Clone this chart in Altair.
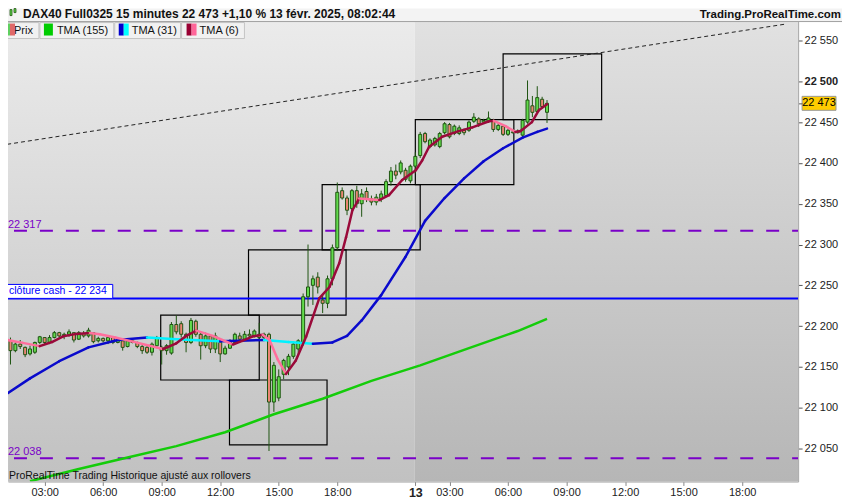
import pandas as pd
import altair as alt

# 15-minute bars: index 0 = 12 févr. 01:15, 83 = 13 févr. 01:15, 110 = 13 févr. 08:00
bar_i = list(range(-1, 111))
opens = [22178,
         22182, 22170, 22178, 22174, 22166, 22168, 22180, 22186, 22180, 22186,
         22192, 22188, 22190, 22192, 22184, 22191, 22188, 22192, 22182, 22185,
         22182, 22186, 22180, 22182, 22175, 22182, 22180, 22175, 22174, 22168,
         22176, 22174, 22170, 22167, 22202, 22203, 22190, 22180, 22206, 22190,
         22176, 22188, 22172, 22180, 22166, 22173, 22180, 22188, 22184, 22190,
         22188, 22190, 22186, 22190, 22107, 22112, 22141, 22150, 22163, 22172,
         22180, 22236, 22250, 22260, 22232, 22228, 22258, 22296, 22366, 22357,
         22344, 22366, 22350, 22365, 22356, 22352, 22356, 22360, 22377, 22390,
         22389, 22391, 22378, 22396, 22409, 22436, 22420, 22422, 22420, 22437,
         22447, 22436, 22436, 22440, 22440, 22451, 22454, 22450, 22451, 22452,
         22441, 22445, 22435, 22438, 22437, 22434, 22450, 22470, 22463, 22478,
         22462]
highs = [22188,
         22186, 22180, 22183, 22175, 22176, 22181, 22188, 22186, 22189, 22194,
         22193, 22192, 22196, 22192, 22194, 22194, 22198, 22192, 22187, 22186,
         22188, 22186, 22186, 22183, 22184, 22184, 22181, 22177, 22176, 22180,
         22188, 22176, 22178, 22205, 22213, 22206, 22192, 22210, 22208, 22194,
         22192, 22190, 22192, 22181, 22176, 22184, 22192, 22192, 22194, 22196,
         22196, 22204, 22192, 22192, 22156, 22147, 22160, 22166, 22181, 22184,
         22240, 22300, 22262, 22266, 22238, 22262, 22300, 22376, 22370, 22360,
         22368, 22372, 22368, 22370, 22360, 22362, 22366, 22380, 22395, 22398,
         22403, 22394, 22398, 22413, 22438, 22438, 22430, 22432, 22438, 22450,
         22449, 22447, 22446, 22442, 22452, 22461, 22456, 22454, 22463, 22454,
         22449, 22447, 22442, 22440, 22441, 22454, 22501, 22482, 22494, 22481,
         22477]
lows = [22176,
        22153, 22168, 22172, 22162, 22164, 22166, 22178, 22178, 22178, 22185,
        22186, 22184, 22187, 22180, 22183, 22186, 22186, 22179, 22180, 22180,
        22178, 22178, 22179, 22170, 22174, 22179, 22173, 22166, 22166, 22164,
        22173, 22153, 22165, 22165, 22190, 22186, 22168, 22178, 22187, 22159,
        22173, 22167, 22167, 22156, 22165, 22172, 22178, 22180, 22182, 22186,
        22186, 22183, 22183, 22047, 22095, 22108, 22135, 22140, 22160, 22165,
        22176, 22224, 22226, 22240, 22216, 22222, 22250, 22292, 22355, 22336,
        22340, 22345, 22334, 22352, 22348, 22348, 22352, 22358, 22372, 22380,
        22386, 22377, 22375, 22387, 22406, 22424, 22418, 22420, 22418, 22435,
        22430, 22434, 22434, 22434, 22438, 22449, 22444, 22448, 22449, 22438,
        22439, 22433, 22433, 22436, 22436, 22430, 22448, 22456, 22460, 22467,
        22449]
closes = [22186,
          22170, 22178, 22175, 22165, 22172, 22180, 22187, 22180, 22186, 22192,
          22188, 22190, 22193, 22183, 22192, 22188, 22195, 22181, 22185, 22182,
          22186, 22180, 22184, 22174, 22182, 22180, 22175, 22170, 22168, 22178,
          22186, 22170, 22176, 22202, 22193, 22190, 22180, 22207, 22190, 22176,
          22188, 22172, 22188, 22166, 22173, 22182, 22190, 22184, 22190, 22188,
          22194, 22186, 22190, 22107, 22152, 22138, 22158, 22163, 22178, 22182,
          22236, 22248, 22258, 22248, 22228, 22258, 22296, 22364, 22357, 22342,
          22366, 22350, 22362, 22356, 22352, 22358, 22362, 22377, 22390, 22385,
          22400, 22380, 22396, 22408, 22435, 22426, 22428, 22430, 22436, 22448,
          22432, 22445, 22443, 22437, 22450, 22456, 22448, 22452, 22455, 22441,
          22446, 22435, 22440, 22437, 22439, 22452, 22477, 22462, 22480, 22469,
          22473]

# moving averages
tma155_i = [4, 14, 24, 34, 44, 54, 64, 74, 84, 94, 104, 110]
tma155_v = [22010, 22025, 22039, 22053, 22070, 22092, 22111, 22133, 22152, 22173, 22194, 22209]
tma31_i = [-2, 4, 10, 16, 22, 28, 35, 43, 52, 57, 62, 66, 69, 72, 76, 81, 85, 89, 93, 97, 101, 105, 108, 110]
tma31_v = [22112, 22136, 22157, 22174, 22183, 22186, 22183.5, 22181.5, 22183, 22180.5, 22178.5, 22180,
           22188, 22207, 22238, 22285, 22329, 22357, 22381, 22402, 22418, 22431, 22438, 22442]
tma6_i = [-2.1, -1.1, 2.5, 6.0, 8.5, 10.8, 13.5, 16.3, 18.3, 21.5, 25.1, 28.5, 31.3, 34.0, 36.0, 38.1,
          41.5, 45.6, 47.5, 49.7, 51.7, 53.1, 54.8, 56.5, 58.5, 60.6, 63.3, 65.4, 67.4, 68.8, 70.1,
          71.5, 73.5, 75.6, 77.6, 80.3, 83.1, 84.4, 85.8, 88.5, 91.9, 94.7, 98.1, 99.1, 101.5, 103.5,
          104.6, 106.9, 108.3, 110]
tma6_v = [22181, 22183.5, 22179.5, 22175.5, 22180.5, 22187.5, 22190.5, 22191.5, 22190, 22186, 22181,
          22176, 22172, 22179, 22188, 22194.5, 22188, 22177.5, 22182, 22187.5, 22189.5, 22183, 22159,
          22141.5, 22158, 22187, 22234, 22248, 22277, 22309, 22342, 22356.5, 22355.5, 22354.5, 22360.5,
          22379, 22391, 22403, 22419.5, 22432, 22439, 22443.5, 22451, 22451.5, 22445, 22438, 22439,
          22450, 22464.5, 22472]

# boxes
box_i0 = [30.8, 44.9, 48.8, 63.9, 83.0, 101.0]
box_i1 = [51.0, 64.9, 68.8, 84.0, 103.2, 121.2]
box_lo = [22134, 22054.5, 22213.5, 22293.5, 22373.5, 22453]
box_hi = [22213.5, 22134, 22293.5, 22373.5, 22453, 22533.5]

trend_i = [-2.1, 158.8]
trend_v = [22421.5, 22570]

purple_levels = [22317, 22038]
cash_level = 22234
last_price = 22473

day_i0 = [-0.5, 82.9]
day_i1 = [82.9, 161.5]

tick_i = [7, 19, 31, 43, 55, 67, 83, 90, 102, 114, 126, 138, 150]
tick_lbl = ["03:00", "06:00", "09:00", "12:00", "15:00", "18:00", "13",
            "03:00", "06:00", "09:00", "12:00", "15:00", "18:00"]
price_ticks = [22050, 22100, 22150, 22200, 22250, 22300, 22350, 22400, 22450, 22500, 22550]

W, H = 792, 461
FONT = "Liberation Sans"


def fmt(v):
    return f"{v:,.0f}".replace(",", " ")


x_expr = "".join(f"datum.value == {t} ? '{s}' : " for t, s in zip(tick_i, tick_lbl)) + "''"
xs = alt.Scale(domain=[-0.511, 161.48], nice=False, zero=False, padding=0)
ys = alt.Scale(domain=[22009.7, 22573.2], nice=False, zero=False, padding=0)
x_axis = alt.Axis(values=tick_i, labelExpr=x_expr, grid=False, zindex=1,
                  tickSize=4, tickColor="#888", domainColor="#aaa",
                  labelColor="#222", labelFont=FONT, labelPadding=1,
                  labelFontSize={"condition": {"test": "datum.value == 83", "value": 12.5}, "value": 11},
                  labelFontWeight={"condition": {"test": "datum.value == 83", "value": "bold"}, "value": "normal"},
                  labelOverlap=False, labelFlush=False)
y_axis = alt.Axis(orient="right", values=price_ticks + [last_price], grid=False, zindex=1,
                  labelExpr="datum.value == 22473 ? '' : replace(format(datum.value, ','), ',', ' ')",
                  tickSize=4, tickColor="#555", domainColor="#aaa", labelColor="#222",
                  labelFont=FONT, labelFontSize=11, labelPadding=2,
                  labelFontWeight={"condition": {"test": "datum.value == 22500", "value": "bold"}, "value": "normal"},
                  labelOverlap=False, labelFlush=False)


def X(f):
    return alt.X(f, type="quantitative", scale=xs, axis=x_axis, title=None)


def Y(f):
    return alt.Y(f, type="quantitative", scale=ys, axis=y_axis, title=None)


one = pd.DataFrame({"k": [0]})


def box(x1, x2, y1, y2, **kw):
    return alt.Chart(one).mark_rect(**kw).encode(
        x=alt.value(x1), x2=alt.value(x2), y=alt.value(y1), y2=alt.value(y2))


def txt(s, x, y, **kw):
    return alt.Chart(one).mark_text(text=s, font=FONT, **kw).encode(x=alt.value(x), y=alt.value(y))


def segments(ii, vv):
    return pd.DataFrame({"i0": ii[:-1], "i1": ii[1:], "v0": vv[:-1], "v1": vv[1:]})


# background per day
days = pd.DataFrame({"i0": day_i0, "i1": day_i1, "d": [12, 13]})
grad12 = alt.Gradient(gradient="linear", x1=0, x2=0, y1=0, y2=1,
                      stops=[alt.GradientStop(color="#ebebeb", offset=0),
                             alt.GradientStop(color="#c1c1c1", offset=1)])
grad13 = alt.Gradient(gradient="linear", x1=0, x2=0, y1=0, y2=1,
                      stops=[alt.GradientStop(color="#e1e1e1", offset=0),
                             alt.GradientStop(color="#b6b6b6", offset=1)])
bg12 = alt.Chart(days).transform_filter("datum.d == 12").mark_rect(color=grad12, clip=True).encode(x=X("i0"), x2="i1")
bg13 = alt.Chart(days).transform_filter("datum.d == 13").mark_rect(color=grad13, clip=True).encode(x=X("i0"), x2="i1")

boxes = alt.Chart(pd.DataFrame({"i0": box_i0, "i1": box_i1, "lo": box_lo, "hi": box_hi})).mark_rect(
    fillOpacity=0, stroke="#000", strokeWidth=1.2, clip=True).encode(x=X("i0"), x2="i1", y=Y("lo"), y2="hi")

trend = alt.Chart(pd.DataFrame({"i": trend_i, "v": trend_v})).mark_line(
    color="#222", strokeDash=[4, 3], strokeWidth=1, clip=True).encode(x=X("i"), y=Y("v"))

purple = pd.DataFrame({"v": purple_levels, "lbl": [fmt(v) for v in purple_levels]})
plines = alt.Chart(purple).mark_rule(color="#7a00c8", strokeWidth=2, strokeDash=[13, 13],
                                      strokeDashOffset=7, clip=True).encode(y=Y("v"))
plabels = alt.Chart(purple).mark_text(align="left", baseline="alphabetic", dy=-3, color="#7a00c8",
                                      font=FONT, fontSize=11).encode(x=alt.value(0), y=Y("v"), text="lbl")

cash = pd.DataFrame({"v": [cash_level], "lbl": ["clôture cash -  " + fmt(cash_level)]})
cline = alt.Chart(cash).mark_rule(color="#0000ff", strokeWidth=2, clip=True).encode(y=Y("v"))
cbox = alt.Chart(cash).mark_rect(fill="#fff", stroke="#0000ff", strokeWidth=1, y2Offset=-14).encode(
    x=alt.value(-8), x2=alt.value(105), y=Y("v"), y2="v")
clabel = alt.Chart(cash).mark_text(align="left", baseline="middle", dy=-7, color="#0000ff",
                                   font=FONT, fontSize=10.5).encode(x=alt.value(1), y=Y("v"), text="lbl")

df = pd.DataFrame({"i": bar_i, "o": opens, "h": highs, "l": lows, "c": closes})
df["dir"] = ["up" if c >= o else "dn" for o, c in zip(opens, closes)]
wicks = alt.Chart(df).mark_rule(color="#1f5412", strokeWidth=1, clip=True).encode(x=X("i"), y=Y("l"), y2="h")
bodies = alt.Chart(df).mark_bar(size=3, stroke="#1f5412", strokeWidth=1, clip=True).encode(
    x=X("i"), y=Y("o"), y2="c",
    fill=alt.Fill("dir:N", scale=alt.Scale(domain=["up", "dn"], range=["#62dc4c", "#ec8674"]), legend=None))

t155 = alt.Chart(pd.DataFrame({"i": tma155_i, "v": tma155_v})).mark_line(
    color="#14cc0a", strokeWidth=2.5, clip=True).encode(x=X("i"), y=Y("v"))
t31 = alt.Chart(segments(tma31_i, tma31_v)).mark_rule(strokeWidth=2.5, strokeCap="round", clip=True).encode(
    x=X("i0"), x2="i1", y=Y("v0"), y2="v1",
    color=alt.condition("datum.v1 >= datum.v0", alt.value("#0a0acc"), alt.value("#00f2ff")))
t6 = alt.Chart(segments(tma6_i, tma6_v)).mark_rule(strokeWidth=2.5, strokeCap="round", clip=True).encode(
    x=X("i0"), x2="i1", y=Y("v0"), y2="v1",
    color=alt.condition("datum.v1 >= datum.v0", alt.value("#9a0a3a"), alt.value("#ff6f9c")))

last = pd.DataFrame({"p": [last_price], "lbl": [fmt(last_price)]})
lbox = alt.Chart(last).mark_rect(fill="#ffcc00", stroke="#999", strokeWidth=1, yOffset=7, y2Offset=-7).encode(
    x=alt.value(796), x2=alt.value(830), y=Y("p"), y2="p")
ltext = alt.Chart(last).mark_text(align="center", baseline="middle", font=FONT, fontSize=11, color="#000").encode(
    x=alt.value(813), y=Y("p"), text="lbl")

# header and legend strip
header = [
    box(0, 836, -13, 0, fill="#f3f3f3"),
    alt.Chart(one).mark_rule(color="#a0a0a0", strokeWidth=1).encode(
        x=alt.value(0), x2=alt.value(836), y=alt.value(0)),
    box(2, 4, -12, -6, fill="#62dc4c", stroke="#1f5412", strokeWidth=0.8),
    box(6, 8, -13, -9, fill="#62dc4c", stroke="#1f5412", strokeWidth=0.8),
    txt("DAX40 Full0325 15 minutes 22 473 +1,10 % 13 févr. 2025, 08:02:44", 15, -3.5,
        align="left", baseline="alphabetic", fontSize=12, fontWeight="bold", color="#111"),
    txt("Trading.ProRealTime.com", 835, -3.5, align="right", baseline="alphabetic",
        fontSize=11.5, fontWeight="bold", color="#111"),
    box(-8, 31, 1, 17, fill="#f1f1f1", stroke="#c4c4c4", strokeWidth=1),
    box(32, 106, 1, 17, fill="#f1f1f1", stroke="#c4c4c4", strokeWidth=1),
    box(107, 173, 1, 17, fill="#f1f1f1", stroke="#c4c4c4", strokeWidth=1),
    box(174, 237, 1, 17, fill="#f1f1f1", stroke="#c4c4c4", strokeWidth=1),
    txt("Prix", 6, 9, align="left", baseline="middle", fontSize=11, color="#111"),
    box(-3, 2, 2, 14, fill="#5fcf5f"),
    box(2, 7, 2, 14, fill="#e06868"),
    box(36, 45, 2, 14, fill="#00cc00"),
    txt("TMA (155)", 49, 9, align="left", baseline="middle", fontSize=11, color="#111"),
    box(111, 116, 2, 14, fill="#0000cc"),
    box(116, 121, 2, 14, fill="#00ffff"),
    txt("TMA (31)", 124, 9, align="left", baseline="middle", fontSize=11, color="#111"),
    box(179, 184, 2, 14, fill="#990033"),
    box(184, 189, 2, 14, fill="#ff6699"),
    txt("TMA (6)", 192, 9, align="left", baseline="middle", fontSize=11, color="#111"),
    txt("ProRealTime Trading  Historique ajusté aux rollovers", 1, 459, align="left",
        baseline="alphabetic", fontSize=10.5, color="#111"),
]

chart = alt.layer(
    bg12, bg13, boxes, trend, plines, cline, wicks, bodies, t155, t31, t6,
    plabels, cbox, clabel, lbox, ltext, *header
).properties(
    width=W, height=H,
    padding={"left": 0, "top": 13, "right": 44, "bottom": 18},
    autosize=alt.AutoSizeParams(type="none"),
    background="#ffffff",
).configure_view(strokeWidth=0).configure(font=FONT)

chart.save("out.html", embed_options={"renderer": "svg", "actions": False})
